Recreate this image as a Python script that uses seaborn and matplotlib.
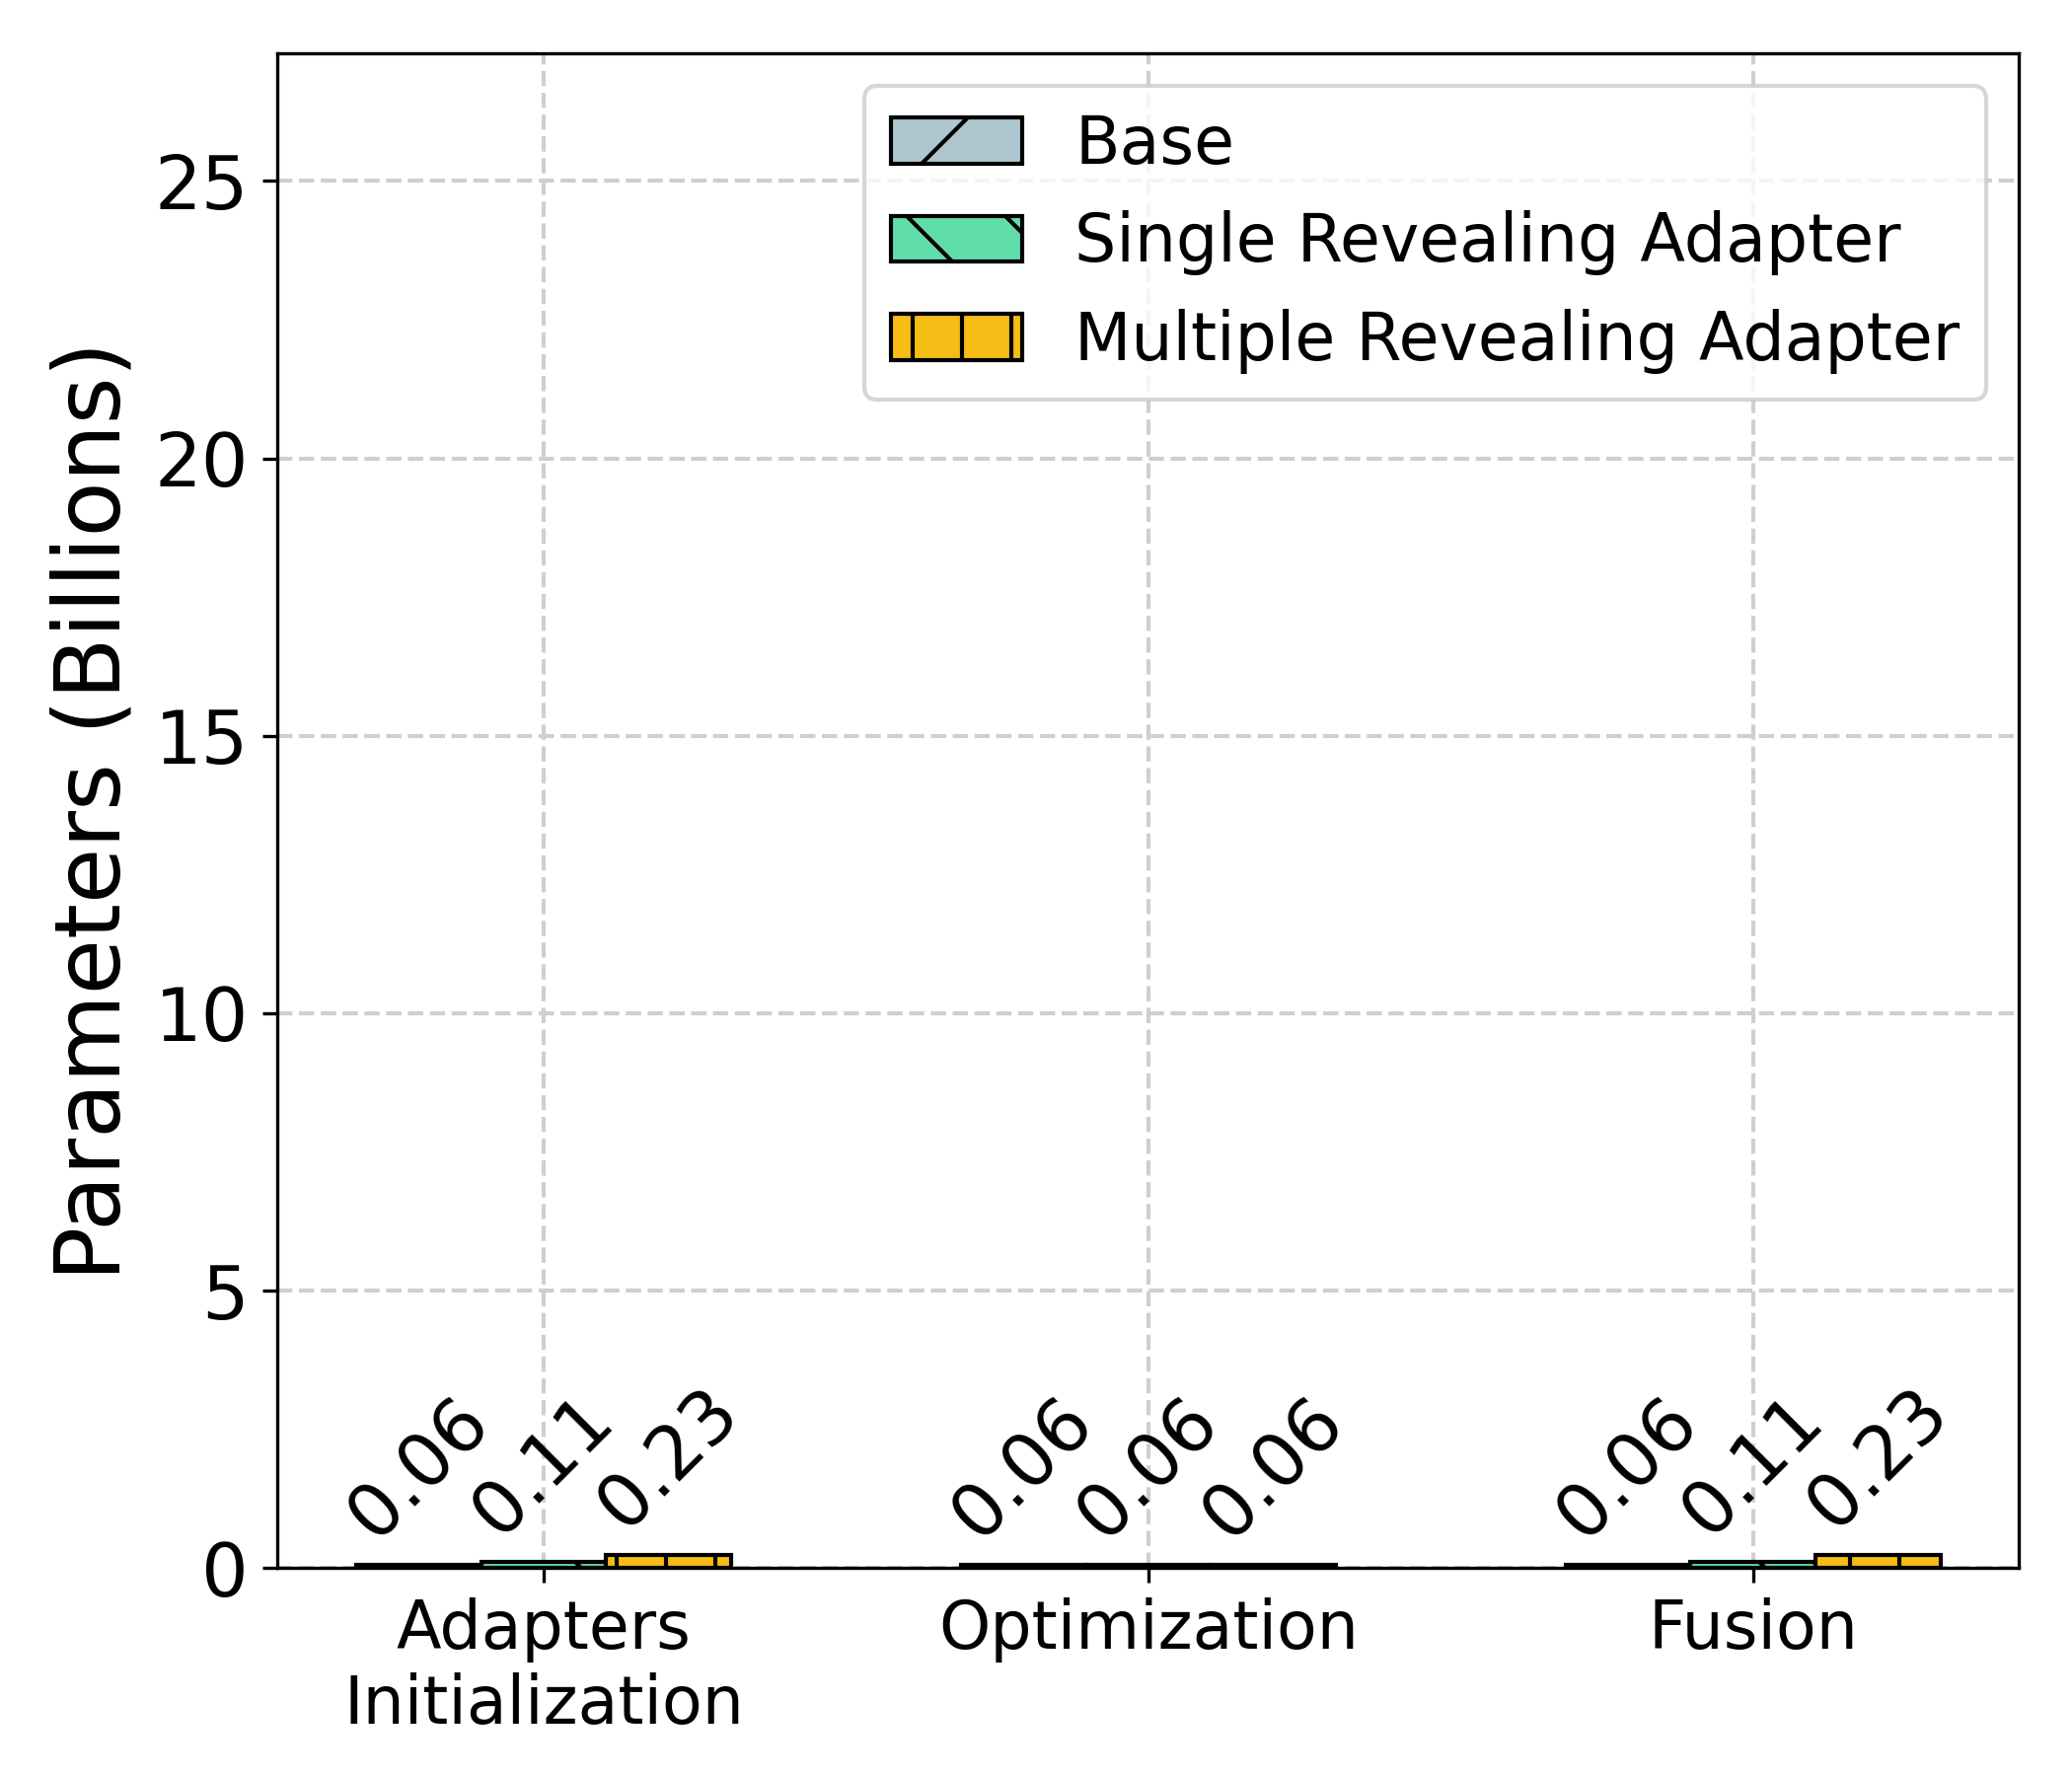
import numpy as np
import pandas as pd
import seaborn as sns
import matplotlib.pyplot as plt

# data
stages = ["Adapters\nInitialization", "Optimization", "Fusion"]
variants = ["Base", "Single Revealing Adapter", "Multiple Revealing Adapter"]
base_vals = [0.06, 0.06, 0.06]
single_vals = [0.11, 0.06, 0.11]
multi_vals = [0.23, 0.06, 0.23]

colors = ["#AEC6CF", "#61DDAA", "#F6BD16"]
hatches = ["/", "\\", "|"]

df = pd.DataFrame({
	"stage": stages * 3,
	"variant": [v for v in variants for _ in stages],
	"params": base_vals + single_vals + multi_vals,
})

fig, ax = plt.subplots(figsize=(7, 6), dpi=300)
fig.subplots_adjust(left=0.134, right=0.9745, top=0.97, bottom=0.117)

sns.barplot(data=df, x="stage", y="params", hue="variant", hue_order=variants,
	order=stages, palette=colors, saturation=1, width=0.62, errorbar=None,
	edgecolor="black", linewidth=1.0, ax=ax, legend=False)

# hatches + rotated value labels
for cont, h in zip(ax.containers, hatches):
	for p in cont.patches:
		p.set_hatch(h)
	ax.bar_label(cont, fmt="%.2f", rotation=45, fontsize=18, padding=3)

ax.legend(ax.containers, variants, loc="upper right", fontsize=16)

ax.set_ylim(0, 27.3)
ax.set_xlim(-0.44, 2.44)
ax.set_xlabel("")
ax.set_ylabel("Parameters (Billions)", fontsize=22)
ax.tick_params(axis="y", labelsize=18)
ax.tick_params(axis="x", labelsize=16)
ax.grid(True, linestyle="--", color="#cfcfcf", linewidth=1.0)
ax.set_axisbelow(True)

plt.savefig("out.png", dpi=300)
